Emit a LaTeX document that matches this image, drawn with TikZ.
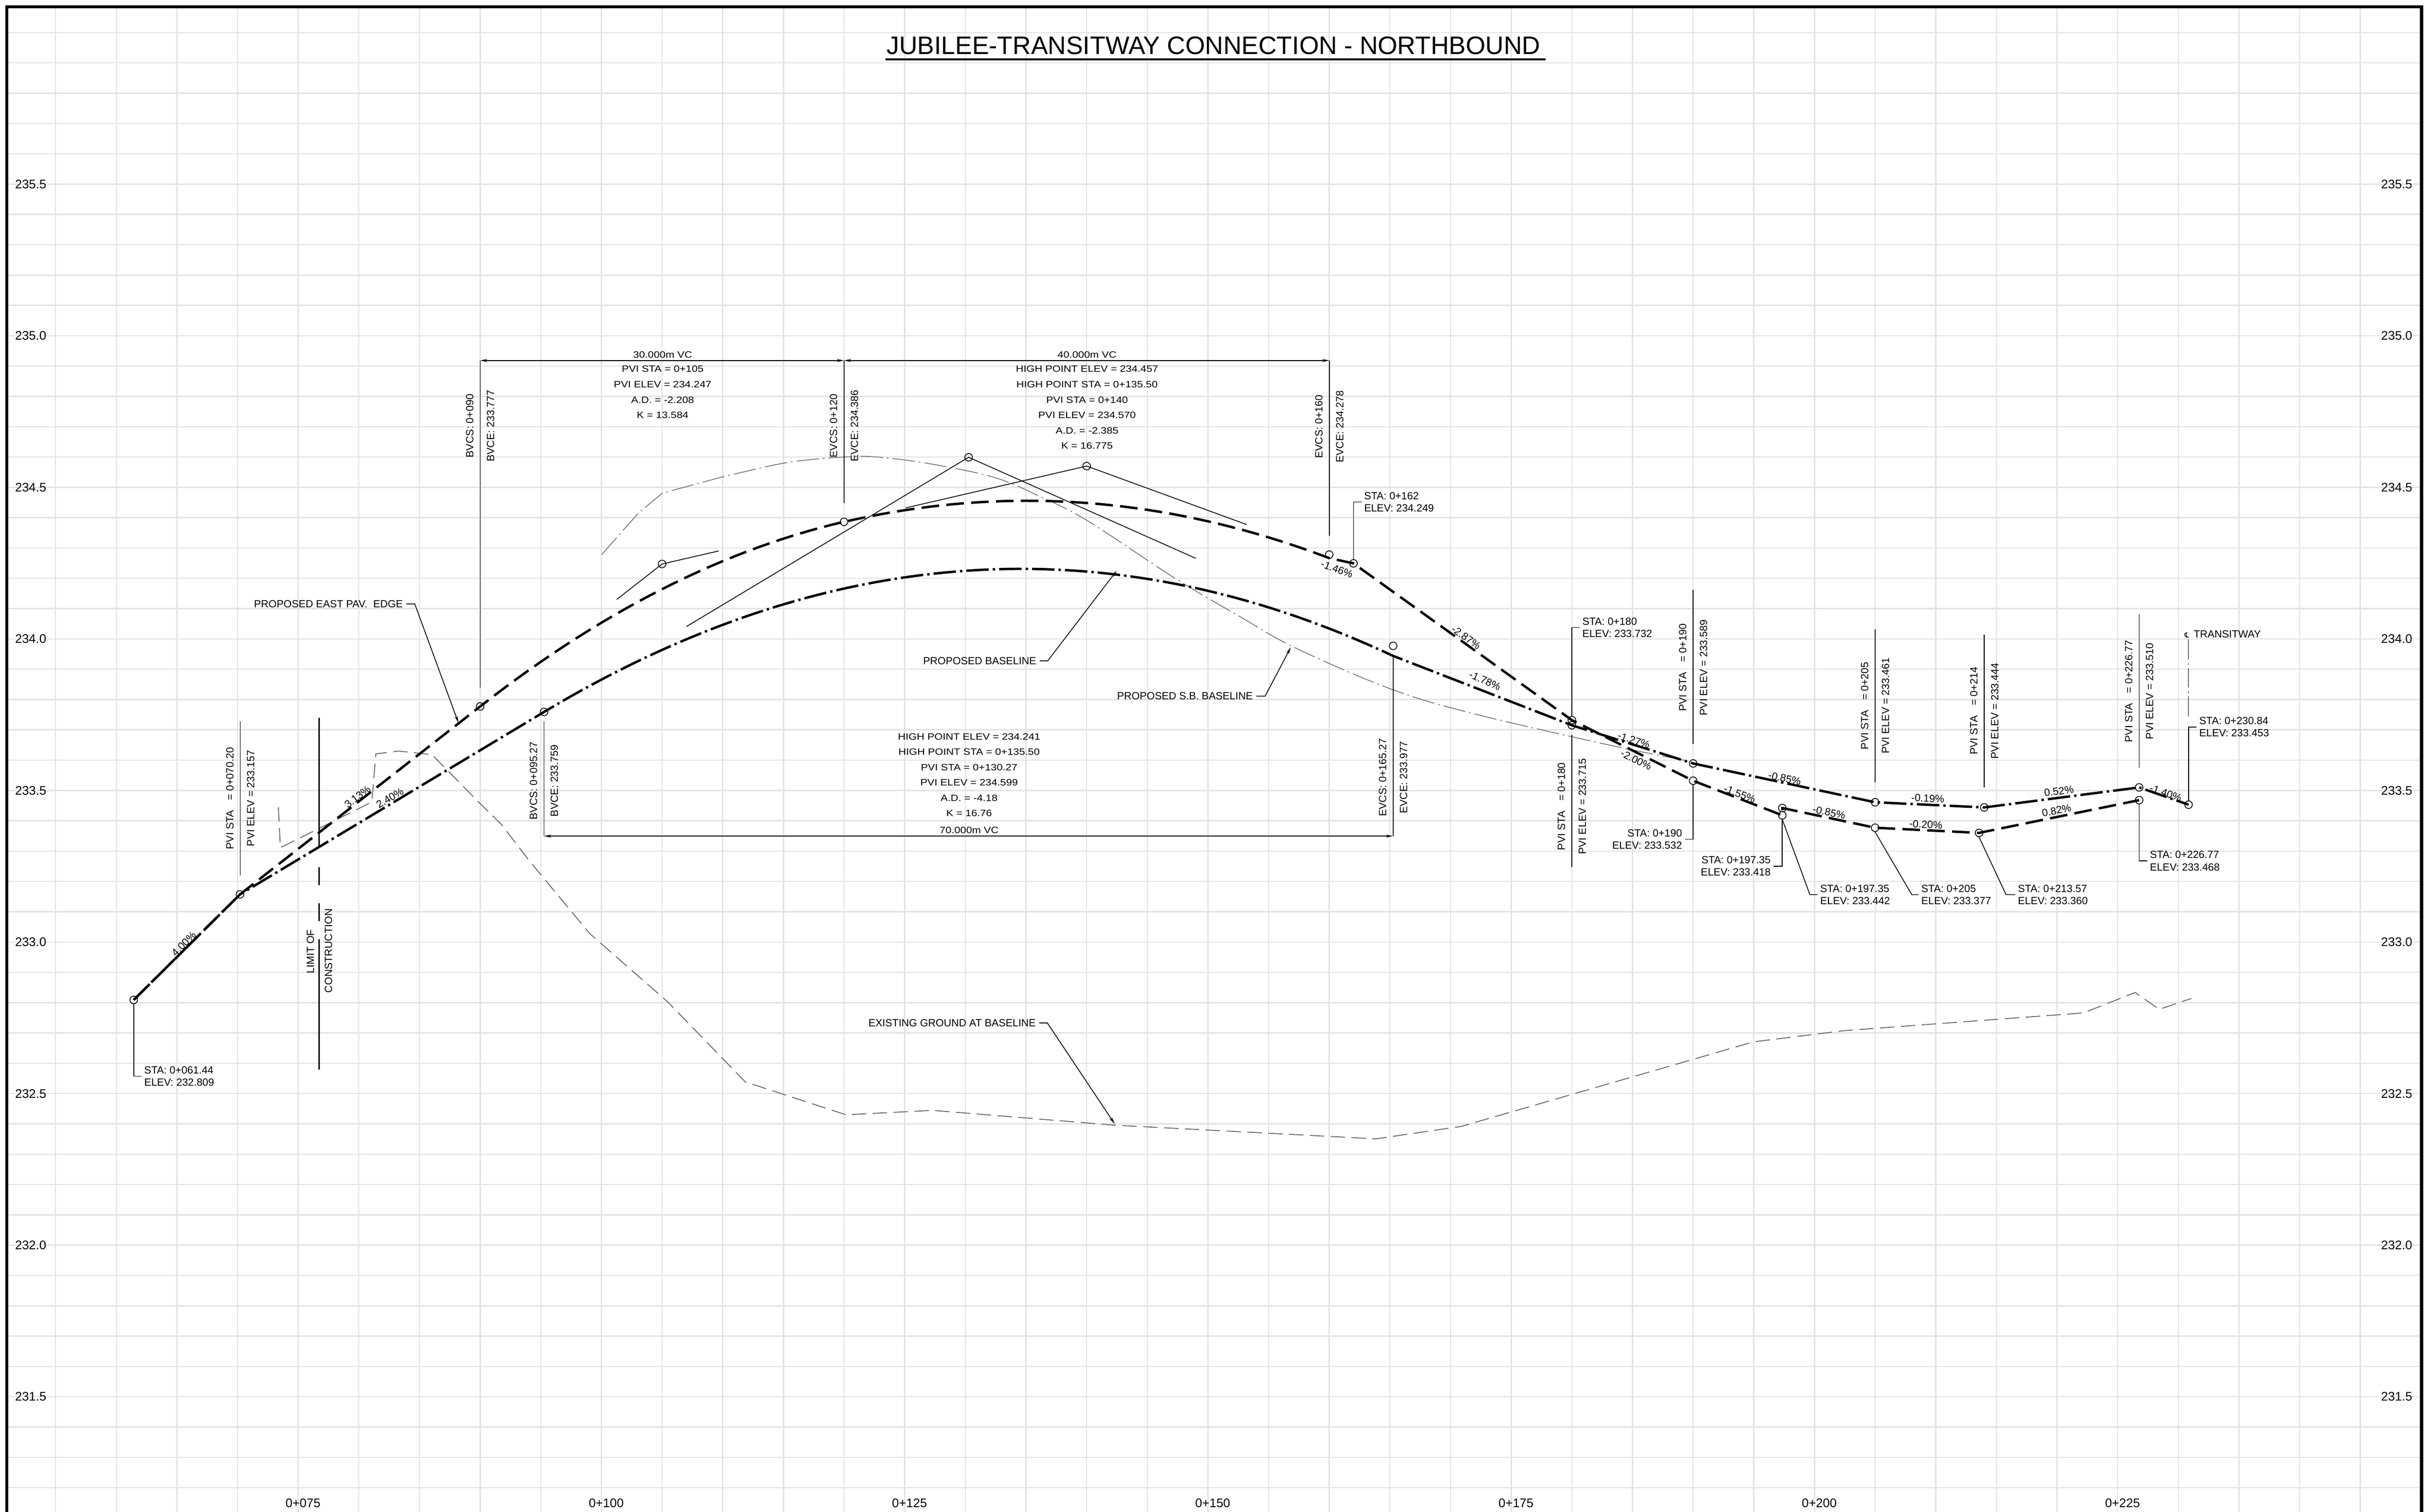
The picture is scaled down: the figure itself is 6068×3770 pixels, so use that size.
\documentclass[tikz,border=0pt]{standalone}
\usepackage{fontspec}
\setmainfont{Liberation Sans}
\newfontfamily\vcfont[FakeStretch=1.15]{Liberation Sans}
\newfontfamily\djv{DejaVu Sans}
\usetikzlibrary{arrows.meta}
\newlength\pvw
\newcommand\PVS{\settowidth{\pvw}{PVI ELEV}\makebox[\pvw][l]{PVI STA}}
\tikzset{
 gridl/.style={draw=black!11, line width=0.75pt},
 bord/.style={line width=2pt},
 paved/.style={line width=1.5pt, dash pattern=on 11pt off 4.5pt},
 basel/.style={line width=1.5pt, dash pattern=on 14pt off 2.5pt on 1.5pt off 2.5pt},
 sbl/.style={draw=black!55, line width=0.5pt, dash pattern=on 14pt off 2.5pt on 1pt off 2.5pt},
 egl/.style={draw=black!60, line width=0.55pt, dash pattern=on 9pt off 4pt},
 tl/.style={line width=0.5pt},
 ldr/.style={line width=0.5pt},
 arr/.style={line width=0.5pt, arrows={-Stealth[length=4.5pt,width=1.8pt]}},
 dimr/.style={line width=0.6pt, arrows={Stealth[length=4.5pt,width=1.8pt]-Stealth[length=4.5pt,width=1.8pt]}},
 mk/.style={circle, draw, line width=0.5pt, minimum size=4.75pt, inner sep=0pt},
 sf/.style={font=\fontsize{6.5pt}{7.625pt}\selectfont},
 lbl/.style={sf, align=left, inner xsep=1.5pt, inner ysep=0pt},
 lblr/.style={sf, align=right, inner xsep=1.5pt, inner ysep=0pt},
 vl/.style={sf, rotate=90, anchor=south, inner sep=4pt},
 vr/.style={sf, rotate=90, anchor=north, inner sep=4pt},
 gr/.style={sf, inner sep=0pt},
 vcf/.style={font=\vcfont\fontsize{5.75pt}{9.575pt}\selectfont, align=center, inner sep=0pt},
 axl/.style={font=\fontsize{7.75pt}{9pt}\selectfont, inner sep=0pt},
}
\begin{document}
\begin{tikzpicture}[x={(0.25pt,0)}, y={(0,-0.25pt)}]
\useasboundingbox (0,0) rectangle (6068,3770);
\fill[white] (0,0) rectangle (6068,3770);
% grid
\foreach \s in {55,60,...,245} \draw[gridl] ({30.24*\s-1524.6},17) -- ({30.24*\s-1524.6},3770);
\foreach \i in {0,...,48} \draw[gridl] (17,{81.2+75.6*\i}) -- (6037,{81.2+75.6*\i});
% border
\draw[bord] (17,3800) -- (17,17) -- (6037,17) -- (6037,3800);
% title
\node[font=\fontsize{15.75pt}{18pt}\selectfont, anchor=base, inner sep=0pt] (ttl) at (3025,135) {JUBILEE-TRANSITWAY CONNECTION - NORTHBOUND};
\draw[line width=1pt] ([shift={(-2,13)}]ttl.base west) -- ([shift={(12,13)}]ttl.base east);
% axis labels
\foreach \e/\t [count=\k] in {5.5/235.5,5.0/235.0,4.5/234.5,4.0/234.0,3.5/233.5,3.0/233.0,2.5/232.5,2.0/232.0,1.5/231.5} {
 \node[axl] (yl\k) at (76.5,{4617.2-756*\e}) {\t};
 \node[axl] (yr\k) at (5975,{4617.2-756*\e}) {\t};
}
\foreach \s/\t [count=\k] in {75/0+075,100/0+100,125/0+125,150/0+150,175/0+175,200/0+200,225/0+225}
 \node[axl] (xl\k) at ({30.24*\s-1524.6+12},3749) {\t};

% gray lines
\draw[egl] (694,2013) -- (699,2114) -- (927,2000) -- (937,1880) -- (994,1873) -- (1077,1882) -- (1200,2007) -- (1250,2056) -- (1319,2146) -- (1470,2328) -- (1664,2498) -- (1858,2698) -- (2109,2780) -- (2325,2769) -- (2779,2806) -- (3430,2840) -- (3643,2809) -- (4372,2598) -- (4600,2570) -- (5194,2526) -- (5323,2475) -- (5383,2517) -- (5463,2490);
\draw[sbl] (1500,1383) -- (1591,1280) -- (1651,1230) -- plot[smooth, tension=0.6] coordinates {(1651,1230) (1750,1203) (1832,1182) (1966,1153) (2100,1140) (2190,1140) (2327,1158) (2480,1191) (2588,1236) (2710,1298) (2929,1442) (3090,1537) (3228,1615) (3459,1715) (3655,1775) (3998,1855) (4205,1897)};

% data scope
\begin{scope}[shift={(-381.15pt,-1154.3pt)}, x={(7.56pt,0)}, y={(0,189pt)}]
 \foreach \n/\s/\e in {c6144/61.44/2.809, c7020/70.20/3.157, c90/90/3.777, c105/105/4.247, c120/120/4.386, c140/140/4.570, c160/160/4.278, c162/162/4.249, c9527/95.27/3.759, c13027/130.27/4.599, c16527/165.27/3.977, c180p/180/3.732, c180b/180/3.715, c190p/190/3.532, c190b/190/3.589, c197a/197.35/3.418, c197b/197.35/3.442, c205p/205/3.377, c205b/205/3.461, c21357/213.57/3.360, c214/214/3.444, c22677p/226.77/3.468, c22677b/226.77/3.510, c23084/230.84/3.453}
  \node[mk] (\n) at (\s,\e) {};
 % tangent lines
 \draw[tl] (101.26,4.130) -- (c105.center) -- (109.67,4.290);
 \draw[tl] (125.08,4.432) -- (c140.center) -- (153.2,4.377);
 \draw[tl] (107.0,4.0405) -- (c13027.center) -- (149.0,4.2656);
 % proposed east pavement edge
 \draw[paved] (61.44,2.809) -- (70.20,3.157) -- (90,3.777)
  -- plot[domain=90:120,samples=31] (\x,{3.777+0.0313*(\x-90)-0.000368*(\x-90)^2})
  -- plot[domain=120:160,samples=41] (\x,{4.386+0.00922*(\x-120)-0.000298125*(\x-120)^2})
  -- (162,4.249) -- (180,3.732) -- (190,3.532) -- (197.35,3.418) -- (197.35,3.442) -- (205,3.377) -- (213.57,3.360) -- (226.77,3.468);
 % proposed baseline
 \draw[basel] (61.44,2.809) -- (70.20,3.157) -- (95.27,3.759)
  -- plot[domain=95.27:165.27,samples=71] (\x,{3.759+0.024*(\x-95.27)-0.000298571*(\x-95.27)^2})
  -- (180,3.715) -- (190,3.589) -- (205,3.461) -- (214,3.444) -- (226.77,3.510) -- (230.84,3.453);
\end{scope}

% grade labels
\node[gr, rotate=45] (g1) at (458,2354) {4.00\%};
\node[gr, rotate=38] (g2) at (891,1987) {3.13\%};
\node[gr, rotate=31] (g3) at (972,1990) {2.40\%};
\node[gr, rotate=-20] (g4) at (3333,1419) {-1.46\%};
\node[gr, rotate=-35.7] (g5) at (3655,1590) {-2.87\%};
\node[gr, rotate=-24] (g6) at (3702,1697) {-1.78\%};
\node[gr, rotate=-17.6] (g7) at (4073,1846) {-1.27\%};
\node[gr, rotate=-26.6] (g8) at (4079,1895) {-2.00\%};
\node[gr, rotate=-12] (g9) at (4449,1941) {-0.85\%};
\node[gr, rotate=-21.2] (g10) at (4337,1980) {-1.55\%};
\node[gr, rotate=-12] (g11) at (4560,2026) {-0.85\%};
\node[gr, rotate=-2.7] (g12) at (4806,1991) {-0.19\%};
\node[gr, rotate=-2.9] (g13) at (4801,2056) {-0.20\%};
\node[gr, rotate=7.4] (g14) at (5133,1973) {0.52\%};
\node[gr, rotate=11.6] (g15) at (5127,2021) {0.82\%};
\node[gr, rotate=-19.3] (g16) at (5399,1978) {-1.40\%};

% vertical annotation lines and texts
\draw[ldr] (599,1799) -- (599,2183);
\node[vl] (pa1) at (599,1991) {\PVS{} = 0+070.20};
\node[vr] (pa2) at (599,1991) {PVI ELEV = 233.157};

\draw[line width=0.9pt] (795,1790) -- (795,2114) (795,2163) -- (795,2208) (795,2253) -- (795,2297) (795,2342) -- (795,2668);
\node[vl, inner sep=2.75pt] (lc1) at (795,2373) {LIMIT OF};
\node[vr, inner sep=3.5pt] (lc2) at (795,2371) {CONSTRUCTION};

\draw[ldr] (1197,899) -- (1197,1715);
\node[vl] (bv1) at (1197,1062) {BVCS: 0+090};
\node[vr] (bv2) at (1197,1062) {BVCE: 233.777};
\draw[ldr] (2104,899) -- (2104,1255);
\node[vl] (ev1) at (2104,1062) {EVCS: 0+120};
\node[vr] (ev2) at (2104,1062) {EVCE: 234.386};
\draw[ldr] (3314,899) -- (3314,1336);
\node[vl] (ev3) at (3314,1064) {EVCS: 0+160};
\node[vr] (ev4) at (3314,1064) {EVCE: 234.278};
\draw[ldr] (1356,1799) -- (1356,2085);
\node[vl] (bv3) at (1356,1947) {BVCS: 0+095.27};
\node[vr] (bv4) at (1356,1947) {BVCE: 233.759};
\draw[ldr] (3473,1632) -- (3473,2085);
\node[vl] (ev5) at (3473,1939) {EVCS: 0+165.27};
\node[vr] (ev6) at (3473,1939) {EVCE: 233.977};

\draw[ldr] (3918.6,1832) -- (3918.6,2162);
\node[vl] (p180a) at (3918.6,2011) {\PVS{} = 0+180};
\node[vr] (p180b) at (3918.6,2011) {PVI ELEV = 233.715};
\draw[ldr] (4221,1471) -- (4221,1855);
\node[vl] (p190a) at (4221,1665) {\PVS{} = 0+190};
\node[vr] (p190b) at (4221,1665) {PVI ELEV = 233.589};
\draw[ldr] (4674.6,1569) -- (4674.6,1951);
\node[vl] (p205a) at (4674.6,1760) {\PVS{} = 0+205};
\node[vr] (p205b) at (4674.6,1760) {PVI ELEV = 233.461};
\draw[ldr] (4946.8,1582) -- (4946.8,1964);
\node[vl] (p214a) at (4946.8,1773) {\PVS{} = 0+214};
\node[vr] (p214b) at (4946.8,1773) {PVI ELEV = 233.444};
\draw[ldr] (5333,1531) -- (5333,1915);
\node[vl] (p226a) at (5333,1724) {\PVS{} = 0+226.77};
\node[vr] (p226b) at (5333,1724) {PVI ELEV = 233.510};

% dimension lines
\draw[dimr] (1197,899) -- (2104,899);
\draw[dimr] (2104,899) -- (3314,899);
\draw[dimr] (1356,2085) -- (3473,2085);

% vertical curve data
\node[vcf, anchor=base] (vc30) at (1652,892) {30.000m VC};
\node[vcf, anchor=north] (vc30t) at (1652,911.5) {PVI STA = 0+105\\PVI ELEV = 234.247\\A.D. = -2.208\\K = 13.584};
\node[vcf, anchor=base] (vc40) at (2710,892) {40.000m VC};
\node[vcf, anchor=north] (vc40t) at (2710,911.5) {HIGH POINT ELEV = 234.457\\HIGH POINT STA = 0+135.50\\PVI STA = 0+140\\PVI ELEV = 234.570\\A.D. = -2.385\\K = 16.775};
\node[vcf, anchor=north] (vc70t) at (2416,1828) {HIGH POINT ELEV = 234.241\\HIGH POINT STA = 0+135.50\\PVI STA = 0+130.27\\PVI ELEV = 234.599\\A.D. = -4.18\\K = 16.76};
\node[vcf, anchor=base] (vc70) at (2416,2078) {70.000m VC};

% leader labels with arrows
\node[sf, anchor=east, inner sep=0pt] (tpe) at (1005,1506) {PROPOSED EAST PAV.\ \ EDGE};
\coordinate (ape) at (1143,1803);
\draw[arr] ([xshift=2pt]tpe.east) -- ++(21,0) -- (ape);
\node[sf, anchor=east, inner sep=0pt] (tpb) at (2584,1648) {PROPOSED BASELINE};
\coordinate (apb) at (2784,1423);
\draw[arr] ([xshift=2pt]tpb.east) -- ++(20,0) -- (apb);
\node[sf, anchor=east, inner sep=0pt] (tsb) at (3124,1736) {PROPOSED S.B. BASELINE};
\coordinate (asb) at (3218,1614);
\draw[arr] ([xshift=2pt]tsb.east) -- ++(22,0) -- (asb);
\node[sf, anchor=east, inner sep=0pt] (teg) at (2583,2551) {EXISTING GROUND AT BASELINE};
\coordinate (aeg) at (2779,2803);
\draw[arr] ([xshift=2pt]teg.east) -- ++(20,0) -- (aeg);

% station / elevation labels
\node[lbl, anchor=west] (t6144) at (353,2684) {STA: 0+061.44\\ELEV: 232.809};
\draw[ldr] (c6144.south) |- (t6144.west);
\node[lbl, anchor=west] (t162) at (3394,1252) {STA: 0+162\\ELEV: 234.249};
\draw[ldr] (c162.north) |- (t162.west);
\node[lbl, anchor=west] (t180) at (3938,1565) {STA: 0+180\\ELEV: 233.732};
\draw[ldr] (c180p.north) |- (t180.west);
\node[lblr, anchor=east] (t190) at (4200,2093) {STA: 0+190\\ELEV: 233.532};
\draw[ldr] (c190p.south) |- (t190.east);
\node[lblr, anchor=east] (t197a) at (4421,2160) {STA: 0+197.35\\ELEV: 233.418};
\draw[ldr] (c197a.south) |- (t197a.east);
\node[lbl, anchor=west] (t197b) at (4531,2231) {STA: 0+197.35\\ELEV: 233.442};
\coordinate (k197) at (4512,2231);
\draw[ldr] (c197a.south) -- (k197) -- (t197b.west);
\node[lbl, anchor=west] (t205) at (4783,2231) {STA: 0+205\\ELEV: 233.377};
\coordinate (k205) at (4766,2231);
\draw[ldr] (c205p.south) -- (k205) -- (t205.west);
\node[lbl, anchor=west] (t21357) at (5024,2231) {STA: 0+213.57\\ELEV: 233.360};
\coordinate (k21357) at (5001,2231);
\draw[ldr] (c21357.south) -- (k21357) -- (t21357.west);
\node[lbl, anchor=west] (t22677) at (5353,2147) {STA: 0+226.77\\ELEV: 233.468};
\draw[ldr] (c22677p.south) |- (t22677.west);
\node[lbl, anchor=west] (t23084) at (5476,1813) {STA: 0+230.84\\ELEV: 233.453};
\draw[ldr] (c23084.north) |- (t23084.west);

% transitway centreline
\node[sf, anchor=base west, inner sep=0pt] (ttw) at (5468,1590) {TRANSITWAY};
\node[font=\djv\fontsize{4.5pt}{5pt}\selectfont, anchor=base, inner sep=0pt] (tcl) at (5452,1590) {℄};
\draw[line width=0.5pt, dash pattern=on 12.25pt off 2.5pt on 1pt off 2pt] (5455.6,1595) -- (5455.6,1789);
\end{tikzpicture}
\end{document}
